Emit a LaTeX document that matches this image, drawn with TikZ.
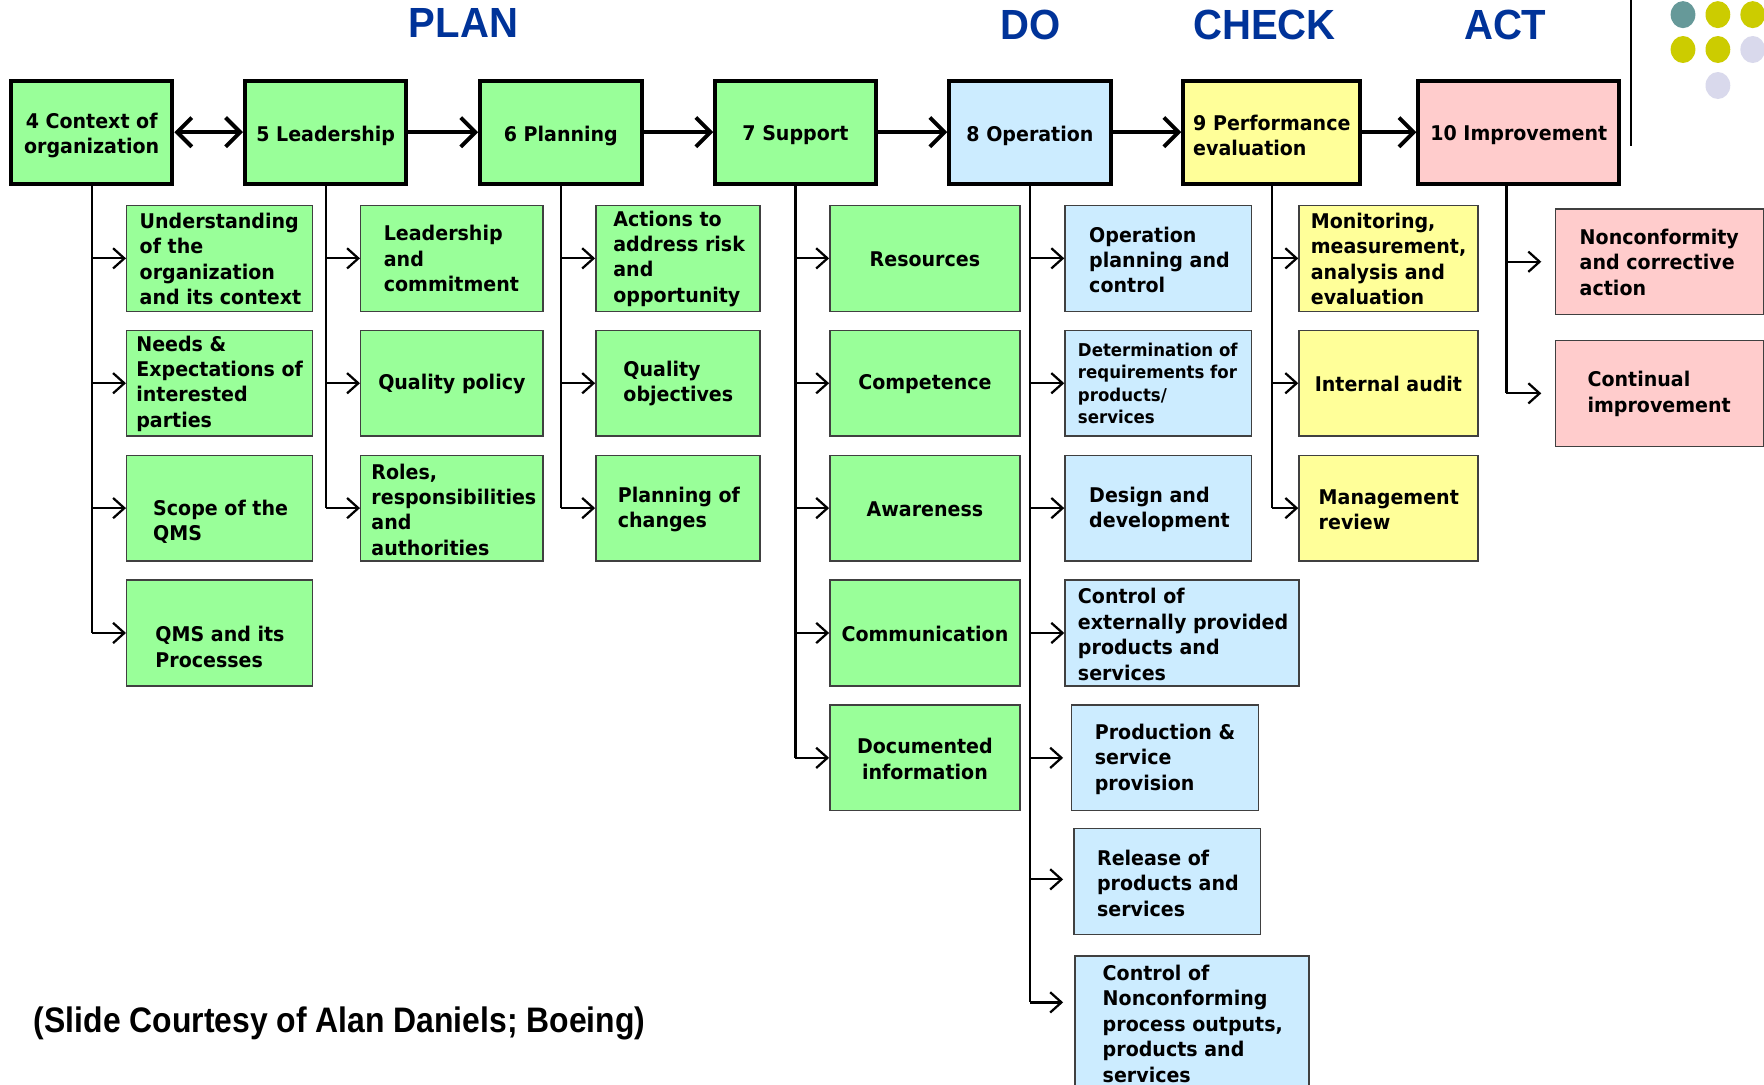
\documentclass[tikz,border=0pt]{standalone}
\usepackage{fontspec}
\usepackage{graphicx}
\usetikzlibrary{arrows.meta}
\newfontfamily\bodyfont{DejaVu Sans}[FakeStretch=0.94]
\newfontfamily\headfont{Liberation Sans}[FakeStretch=0.95]
\newfontfamily\footfont{Liberation Sans}[FakeStretch=0.9]
\definecolor{gfill}{HTML}{99FF99}
\definecolor{bfill}{HTML}{CCECFF}
\definecolor{yfill}{HTML}{FFFF99}
\definecolor{pfill}{HTML}{FFCCCC}
\definecolor{headblue}{HTML}{003399}
\definecolor{dteal}{HTML}{669999}
\definecolor{dolive}{HTML}{CCCC00}
\definecolor{dlav}{HTML}{D9D9EC}
\tikzset{
  topbox/.style={draw=black, line width=3.5pt, minimum height=91.5pt, inner sep=0pt},
  subbox/.style={draw=black!75, line width=1.3pt, inner sep=0pt, anchor=north west},
  txt/.style={inner sep=0pt, font=\bodyfont\bfseries\fontsize{18}{22.6}\selectfont, align=left},
  smalltxt/.style={inner sep=0pt, font=\bodyfont\bfseries\fontsize{15.7}{20}\selectfont, align=left},
  ctxt/.style={txt, align=center},
  trunk/.style={line width=2pt},
  subarr/.style={line width=2pt, -{Straight Barb[length=10pt,width=18pt]}},
  toparr/.style={line width=3.5pt, -{Straight Barb[length=13pt,width=26pt]}},
  dblarr/.style={line width=3.5pt, {Straight Barb[length=13pt,width=26pt]}-{Straight Barb[length=13pt,width=26pt]}},
  head/.style={inner sep=0pt, text=headblue, font=\headfont\bfseries\fontsize{37.5}{40}\selectfont},
  foot/.style={inner sep=0pt, font=\footfont\bfseries\fontsize{31.5}{34}\selectfont},
}
% sub box with left-aligned text: name, x1, y1, x2, y2, fill, textx, texty, text
\newcommand\sbx[9]{%
  \node[subbox, fill=#6, minimum width={#4pt-#2pt}, minimum height={#5pt-#3pt}] (#1) at (#2,#3) {};
  \node[txt, anchor=west] (#1t) at (#7,#8+1) {#9};}
% sub box with centred text: name, x1, y1, x2, y2, fill, text
\newcommand\cbx[7]{%
  \node[subbox, fill=#6, minimum width={#4pt-#2pt}, minimum height={#5pt-#3pt}] (#1) at (#2,#3) {};
  \node[ctxt] (#1t) at ([yshift=-1pt]#1.center) {#7};}
% top box: name, centre x, width, fill, text
\newcommand\tbx[5]{%
  \node[topbox, fill=#4, minimum width=#3pt] (#1) at (#2,117.5) {};
  \node[ctxt] (#1t) at ([yshift=-3pt]#1.center) {#5};}
\begin{document}
\begin{tikzpicture}[x=1pt, y=-1pt]
\useasboundingbox (0,0) rectangle (1568,964);
\fill[white] (0,0) rectangle (1568,964);

% headings
\node[head] (plan) at (412,20) {PLAN};
\node[head] (do) at (916,22.5) {DO};
\node[head] (check) at (1124,22.5) {CHECK};
\node[head] (act) at (1338,22.5) {ACT};

% decoration top right
\draw[line width=1.5pt] (1449.5,0) -- (1449.5,130);
\fill[dteal]  (1496,13) ellipse [x radius=11, y radius=12];
\fill[dolive] (1527,13) ellipse [x radius=11, y radius=12];
\fill[dolive] (1558,13) ellipse [x radius=11, y radius=12];
\fill[dolive] (1496,44) ellipse [x radius=11, y radius=12];
\fill[dolive] (1527,44) ellipse [x radius=11, y radius=12];
\fill[dlav]   (1558,44) ellipse [x radius=11, y radius=12];
\fill[dlav]   (1527,76) ellipse [x radius=11, y radius=12];

% top row
\tbx{b4}{81.5}{143.5}{gfill}{4 Context of\\organization}
\tbx{b5}{289.5}{143.5}{gfill}{5 Leadership}
\tbx{b6}{498.5}{143.5}{gfill}{6 Planning}
\tbx{b7}{707}{142.5}{gfill}{7 Support}
\tbx{b8}{915.5}{143.5}{bfill}{8 Operation}
\node[topbox, fill=yfill, minimum width=157.5pt] (b9) at (1130.5,117.5) {};
\node[txt] (b9t) at ([yshift=-3pt]b9.center) {9 Performance\\evaluation};
\tbx{b10}{1350}{178.5}{pfill}{10 Improvement}

\draw[dblarr] (b4) -- (b5);
\draw[toparr] (b5) -- (b6);
\draw[toparr] (b6) -- (b7);
\draw[toparr] (b7) -- (b8);
\draw[toparr] (b8) -- (b9);
\draw[toparr] (b9) -- (b10);

% clause 4
\sbx{c1a}{112}{182}{277}{276}{gfill}{124}{229}{Understanding\\of the\\organization\\and its context}
\sbx{c1b}{112}{293}{277}{387}{gfill}{121}{340}{Needs \&\\Expectations of\\interested\\parties}
\sbx{c1c}{112}{404}{277}{498}{gfill}{136}{463}{Scope of the\\QMS}
\sbx{c1d}{112}{515}{277}{609}{gfill}{138}{574}{QMS and its\\Processes}
% clause 5
\sbx{c2a}{320}{182}{482}{276}{gfill}{341}{229}{Leadership\\and\\commitment}
\cbx{c2b}{320}{293}{482}{387}{gfill}{Quality policy}
\sbx{c2c}{320}{404}{482}{498}{gfill}{330}{452}{Roles,\\responsibilities\\and\\authorities}
% clause 6
\sbx{c3a}{529}{182}{675}{276}{gfill}{545}{229}{Actions to\\address risk\\and\\opportunity}
\sbx{c3b}{529}{293}{675}{387}{gfill}{554}{340}{Quality\\objectives}
\sbx{c3c}{529}{404}{675}{498}{gfill}{549}{452}{Planning of\\changes}
% clause 7
\cbx{c4a}{737}{182}{906}{276}{gfill}{Resources}
\cbx{c4b}{737}{293}{906}{387}{gfill}{Competence}
\cbx{c4c}{737}{404}{906}{498}{gfill}{Awareness}
\cbx{c4d}{737}{515}{906}{609}{gfill}{Communication}
\cbx{c4e}{737}{626}{906}{720}{gfill}{Documented\\information}
% clause 8
\sbx{c5a}{946}{182}{1112}{276}{bfill}{968}{230}{Operation\\planning and\\control}
\node[subbox, fill=bfill, minimum width=166pt, minimum height=94pt] (c5b) at (946,293) {};
\node[smalltxt, anchor=west] (c5bt) at (958,341) {Determination of\\requirements for\\products/\\services};
\sbx{c5c}{946}{404}{1112}{498}{bfill}{968}{452}{Design and\\development}
\sbx{c5d}{946}{515}{1154}{609}{bfill}{958}{563}{Control of\\externally provided\\products and\\services}
\sbx{c5e}{952}{626}{1118}{720}{bfill}{973}{674}{Production \&\\service\\provision}
\sbx{c5f}{954}{736}{1120}{830}{bfill}{975}{784}{Release of\\products and\\services}
\sbx{c5g}{955}{849}{1163}{972}{bfill}{980}{909}{Control of\\Nonconforming\\process outputs,\\products and\\services}
% clause 9
\sbx{c6a}{1154}{182}{1313}{276}{yfill}{1165}{229}{Monitoring,\\measurement,\\analysis and\\evaluation}
\cbx{c6b}{1154}{293}{1313}{387}{yfill}{Internal audit}
\sbx{c6c}{1154}{404}{1313}{498}{yfill}{1172}{452}{Management\\review}
% clause 10
\sbx{c7a}{1382}{185}{1567}{279}{pfill}{1404}{232}{Nonconformity\\and corrective\\action}
\sbx{c7b}{1382}{302}{1567}{396}{pfill}{1411}{349}{Continual\\improvement}

% trunks and branch arrows
\draw[trunk] (b4.south) -- (b4.south |- c1d.west);
\foreach \n in {c1a,c1b,c1c,c1d} \draw[subarr] (b4.south |- \n.west) -- (\n.west);
\draw[trunk] (b5.south) -- (b5.south |- c2c.west);
\foreach \n in {c2a,c2b,c2c} \draw[subarr] (b5.south |- \n.west) -- (\n.west);
\draw[trunk] (b6.south) -- (b6.south |- c3c.west);
\foreach \n in {c3a,c3b,c3c} \draw[subarr] (b6.south |- \n.west) -- (\n.west);
\draw[trunk] (b7.south) -- (b7.south |- c4e.west);
\foreach \n in {c4a,c4b,c4c,c4d,c4e} \draw[subarr] (b7.south |- \n.west) -- (\n.west);

\coordinate (c5eIn) at ([xshift=-7pt]c5e.west);
\coordinate (c5fIn) at ([xshift=-9pt,yshift=2pt]c5f.west);
\coordinate (c5gIn) at (945,891);
\draw[trunk] (b8.south) -- (b8.south |- c5gIn);
\foreach \n in {c5a,c5b,c5c,c5d} \draw[subarr] (b8.south |- \n.west) -- (\n.west);
\foreach \n in {c5eIn,c5fIn,c5gIn} \draw[subarr] (b8.south |- \n) -- (\n);

\draw[trunk] (b9.south) -- (b9.south |- c6c.west);
\foreach \n in {c6a,c6b,c6c} \draw[subarr] (b9.south |- \n.west) -- (\n.west);

\coordinate (t10) at ([xshift=-11pt]b10.south);
\coordinate (c7aIn) at ([xshift=-12pt]c7a.west);
\coordinate (c7bIn) at ([xshift=-12pt]c7b.west);
\draw[trunk] (t10) -- (t10 |- c7bIn);
\foreach \n in {c7aIn,c7bIn} \draw[subarr] (t10 |- \n) -- (\n);

% credit
\node[foot, anchor=west] (credit) at (30,910) {(Slide Courtesy of Alan Daniels; Boeing)};
\end{tikzpicture}
\end{document}
